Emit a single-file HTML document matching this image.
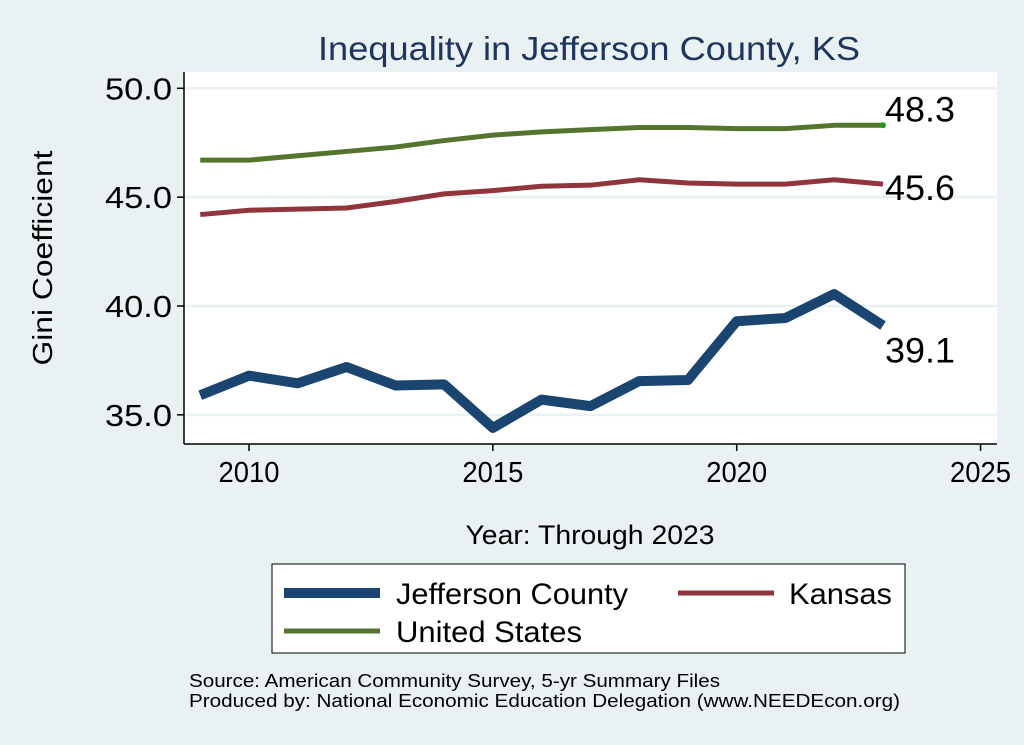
<!DOCTYPE html>
<html><head><meta charset="utf-8"><style>
body{margin:0;background:#eaf1f3;}
svg{display:block;font-family:"Liberation Sans",Arial,sans-serif;}
</style></head><body>
<svg id="chart" width="1024" height="745" viewBox="0 0 1024 745">
<rect x="0" y="0" width="1024" height="745" fill="#eaf1f3"/>
<text x="589" y="60" text-anchor="middle" font-size="33" textLength="542" lengthAdjust="spacingAndGlyphs" fill="#1e3560">Inequality in Jefferson County, KS</text>
<rect x="184" y="72" width="813" height="372" fill="#ffffff"/>
<g id="grid"></g>
<g id="series"></g>
<g id="axes"></g>
<text transform="translate(52,258) rotate(-90)" text-anchor="middle" font-size="28" textLength="215" lengthAdjust="spacingAndGlyphs" fill="#000">Gini Coefficient</text>
<text x="590" y="544" text-anchor="middle" font-size="27" textLength="249" lengthAdjust="spacingAndGlyphs" fill="#000">Year: Through 2023</text>
<g>
<rect x="272" y="564" width="633" height="89" fill="#fff" stroke="#000" stroke-width="1"/>
<line x1="284" y1="593" x2="380" y2="593" stroke="#1a4570" stroke-width="10"/>
<text x="396" y="604" font-size="30" textLength="232" lengthAdjust="spacingAndGlyphs">Jefferson County</text>
<line x1="678" y1="593" x2="774" y2="593" stroke="#90353b" stroke-width="5"/>
<text x="789" y="604" font-size="30" textLength="103" lengthAdjust="spacingAndGlyphs">Kansas</text>
<line x1="284" y1="631" x2="380" y2="631" stroke="#55752f" stroke-width="5"/>
<text x="396" y="642" font-size="30" textLength="186" lengthAdjust="spacingAndGlyphs">United States</text>
</g>
<text x="189" y="687" font-size="18" textLength="531" lengthAdjust="spacingAndGlyphs">Source: American Community Survey, 5-yr Summary Files</text>
<text x="189" y="707" font-size="18" textLength="711" lengthAdjust="spacingAndGlyphs">Produced by: National Economic Education Delegation (www.NEEDEcon.org)</text>
</svg>
<script>
const years=[2009,2010,2011,2012,2013,2014,2015,2016,2017,2018,2019,2020,2021,2022,2023];
const jefferson=[35.9,36.8,36.45,37.2,36.35,36.4,34.4,35.7,35.4,36.55,36.6,39.3,39.45,40.55,39.1];
const kansas=[44.2,44.4,44.45,44.5,44.8,45.15,45.3,45.5,45.55,45.8,45.65,45.6,45.6,45.8,45.6];
const unitedStates=[46.7,46.7,46.9,47.1,47.3,47.6,47.85,48.0,48.1,48.2,48.2,48.15,48.15,48.3,48.3];
const yTicks=[35,40,45,50];
const yTickLabels=["35.0","40.0","45.0","50.0"];
const xTicks=[2010,2015,2020,2025];
const NS="http://www.w3.org/2000/svg";
const xs=v=>249+(v-2010)*48.77;
const ys=v=>88.3+(50-v)*21.77;
function mk(tag,attrs,parent){const e=document.createElementNS(NS,tag);for(const k in attrs)e.setAttribute(k,attrs[k]);parent.appendChild(e);return e;}
const grid=document.getElementById('grid'),axes=document.getElementById('axes'),ser=document.getElementById('series');
yTicks.forEach((t,i)=>{
 const g=mk('line',{x1:185,x2:997,y1:ys(t),y2:ys(t),stroke:'#eaf1f3','stroke-width':2.5},grid);
 
 
 const tk=mk('line',{x1:177,x2:184,y1:ys(t),y2:ys(t),stroke:'#000','stroke-width':1.5},axes);
 
 
 const tx=mk('text',{x:172,y:ys(t)+11,'text-anchor':'end','font-size':31,textLength:67,lengthAdjust:'spacingAndGlyphs'},axes);
 tx.textContent=yTickLabels[i];
 
 
});
xTicks.forEach(t=>{
 const tk=mk('line',{x1:xs(t),x2:xs(t),y1:444,y2:451,stroke:'#000','stroke-width':1.5},axes);
 
 
 const tx=mk('text',{x:xs(t),y:482,'text-anchor':'middle','font-size':29,textLength:61,lengthAdjust:'spacingAndGlyphs'},axes);
 tx.textContent=t;
 
 
});
const ya=mk('line',{x1:184,x2:184,y1:72,y2:444,stroke:'#000','stroke-width':1.5},axes);


const xa=mk('line',{x1:184,x2:997,y1:444,y2:444,stroke:'#000','stroke-width':1.5},axes);


function line(vals,color,w,name){
 const p=mk('polyline',{points:vals.map((v,i)=>xs(years[i])+','+ys(v)).join(' '),fill:'none',stroke:color,'stroke-width':w,'stroke-linejoin':'round'},ser);
 
 
}
line(unitedStates,'#55752f',5,'line-united-states');
line(kansas,'#90353b',5,'line-kansas');
line(jefferson,'#1a4570',10,'line-jefferson-county');
const last=years.length-1;
const dot=mk('circle',{cx:xs(years[last]),cy:ys(unitedStates[last]),r:3,fill:'#1a9a1a'},ser);


function lab(v,dy,name){
 const t=mk('text',{x:xs(years[last])+2,y:ys(v)+dy,'font-size':35,textLength:70,lengthAdjust:'spacingAndGlyphs'},ser);
 t.textContent=v.toFixed(1);
 
 
}
lab(unitedStates[last],-4,'label-us-end');
lab(kansas[last],16,'label-kansas-end');
lab(jefferson[last],37,'label-jefferson-end');
</script>
</body></html>
